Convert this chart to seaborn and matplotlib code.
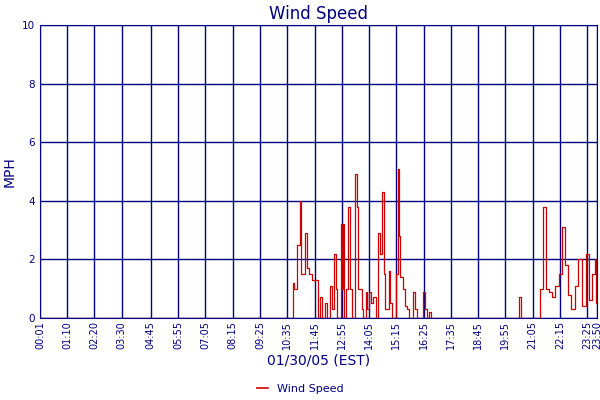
import matplotlib
matplotlib.use("Agg")
import matplotlib.pyplot as plt
import pandas as pd
import seaborn as sns

NAVY = "#000080"

# readings (HH:MM, mph); step-style between readings
times = ["00:01", "10:45", "10:49", "10:53", "11:00", "11:07", "11:10", "11:20", "11:25",
         "11:30", "11:38", "11:53", "11:58", "12:03", "12:13", "12:18", "12:25", "12:29",
         "12:36", "12:40", "12:44", "12:52", "12:55", "12:57", "13:00", "13:05", "13:12",
         "13:15", "13:20", "13:30", "13:33", "13:36", "13:46", "13:50", "13:56", "14:00",
         "14:06", "14:10", "14:16", "14:22", "14:29", "14:34", "14:39", "14:43", "14:47",
         "14:55", "15:00", "15:05", "15:13", "15:18", "15:21", "15:25", "15:31", "15:36",
         "15:43", "15:47", "15:59", "16:03", "16:09", "16:24", "16:28", "16:33", "16:40",
         "16:44", "20:28", "20:30", "20:35", "21:24", "21:32", "21:39", "21:47", "21:55",
         "22:02", "22:13", "22:20", "22:28", "22:36", "22:43", "22:54", "23:01", "23:12",
         "23:22", "23:29", "23:37", "23:45", "23:48", "23:50"]
mph = [0.0, 0.0, 1.2, 1.0, 2.5, 4.0, 1.5, 2.9, 1.7,
       1.5, 1.3, 0.0, 0.7, 0.0, 0.5, 0.0, 1.1, 0.3,
       2.2, 1.0, 0.0, 3.2, 1.0, 3.2, 0.0, 1.0, 3.8,
       1.0, 0.0, 4.9, 3.8, 1.0, 0.3, 0.0, 0.9, 0.3,
       0.9, 0.5, 0.7, 0.0, 2.9, 2.2, 4.3, 1.5, 0.3,
       1.6, 0.5, 0.0, 1.5, 5.1, 2.8, 1.4, 1.0, 0.4,
       0.3, 0.0, 0.9, 0.3, 0.0, 0.9, 0.3, 0.0, 0.2,
       0.0, 0.0, 0.7, 0.0, 1.0, 3.8, 1.0, 0.9, 0.7,
       1.1, 1.5, 3.1, 1.8, 0.8, 0.3, 1.1, 2.0, 0.4,
       2.2, 0.6, 1.5, 2.0, 0.5, 0.5]

tick_labels = ["00:01", "01:10", "02:20", "03:30", "04:45", "05:55", "07:05", "08:15",
               "09:25", "10:35", "11:45", "12:55", "14:05", "15:15", "16:25", "17:35",
               "18:45", "19:55", "21:05", "22:15", "23:25", "23:50"]


def to_min(s):
    h, m = s.split(":")
    return int(h) * 60 + int(m)


df = pd.DataFrame({"t": [to_min(s) for s in times], "mph": mph})

fig = plt.figure(figsize=(6, 4), dpi=100)
ax = fig.add_axes([0.067, 0.205, 0.928, 0.7325])
sns.lineplot(data=df, x="t", y="mph", ax=ax, color="#cc0000", linewidth=0.9,
             drawstyle="steps-post", legend=False)

ticks = [to_min(s) for s in tick_labels]
ax.set_xlim(ticks[0], ticks[-1])
ax.set_ylim(0, 10)
ax.set_xticks(ticks)
ax.set_xticklabels(tick_labels, rotation=90, fontsize=7, color=NAVY)
ax.set_yticks([0, 2, 4, 6, 8, 10])
ax.tick_params(axis="y", labelsize=7.5, labelcolor=NAVY, length=0)
ax.tick_params(axis="x", length=0, pad=2)
ax.grid(True, color=NAVY, linewidth=1)
ax.set_axisbelow(True)
for sp in ax.spines.values():
    sp.set_color(NAVY)

ax.set_title("Wind Speed", color=NAVY, fontsize=12, pad=4)
ax.set_xlabel("01/30/05 (EST)", color=NAVY, fontsize=10, labelpad=3)
ax.set_ylabel("MPH", color=NAVY, fontsize=10)
handle = plt.Line2D([], [], color="#cc0000", linewidth=1.2)
fig.legend([handle], ["Wind Speed"], loc="lower center", bbox_to_anchor=(0.5, -0.01),
           frameon=False, fontsize=8, handlelength=1, labelcolor=NAVY)

fig.savefig("out.png", dpi=100)
